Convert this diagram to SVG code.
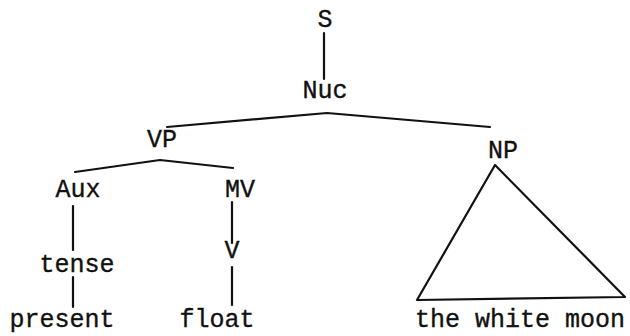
<svg xmlns="http://www.w3.org/2000/svg" width="630" height="336" viewBox="0 0 630 336">
<style>
text{font-family:"Liberation Mono","Courier New",monospace;font-size:25px;fill:#111;text-anchor:middle;stroke:#111;stroke-width:0.35}
.e{stroke:#111;stroke-width:2.2;fill:none;stroke-linecap:round;stroke-linejoin:round}
</style>
<rect width="630" height="336" fill="#fff"/>
<g id="connectors">
<line class="e" x1="324" y1="33" x2="324" y2="79"/>
<polyline class="e" points="167,127 327,113 490,127"/>
<polyline class="e" points="75,172 160,160 233,168"/>
<line class="e" x1="73" y1="206" x2="73" y2="250"/>
<line class="e" x1="73" y1="277" x2="73" y2="307"/>
<line class="e" x1="232" y1="202" x2="232" y2="243"/>
<line class="e" x1="232" y1="267" x2="232" y2="305"/>
<polygon class="e" points="495,165 417,300 625,297"/>
</g>
<g id="S"><text x="325" y="27">S</text></g>
<g id="Nuc"><text x="325" y="98">Nuc</text></g>
<g id="VP"><text x="162" y="147">VP</text></g>
<g id="NP"><text x="503" y="158">NP</text></g>
<g id="Aux"><text x="78" y="197">Aux</text></g>
<g id="MV"><text x="240" y="197">MV</text></g>
<g id="tense"><text x="77" y="272">tense</text></g>
<g id="V"><text x="232" y="258">V</text></g>
<g id="present"><text x="62" y="327">present</text></g>
<g id="float"><text x="217" y="327">float</text></g>
<g id="np-text"><text x="520" y="327">the white moon</text></g>
</svg>
